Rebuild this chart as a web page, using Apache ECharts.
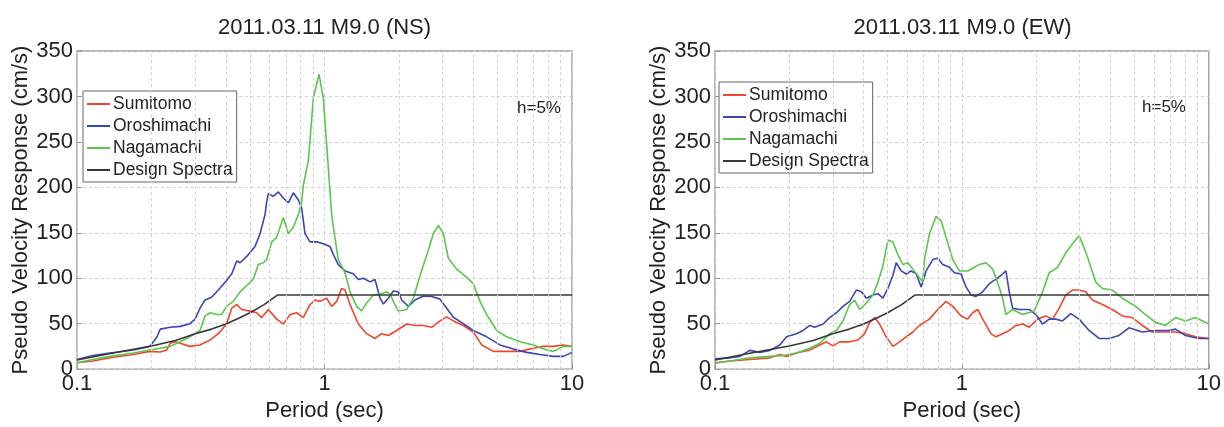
<!DOCTYPE html>
<html><head><meta charset="utf-8">
<script src="https://cdn.jsdelivr.net/npm/echarts@6/dist/echarts.min.js"></script>
<style>html,body{margin:0;padding:0;background:#fff}#c{width:1224px;height:427px}</style>
</head><body><div id="c"></div>
<script>
const seriesNames = ['Sumitomo', 'Oroshimachi', 'Nagamachi', 'Design Spectra'];
const chartTitles = ['2011.03.11 M9.0 (NS)', '2011.03.11 M9.0 (EW)'];
const dampingNote = 'h=5%';
const xName = 'Period (sec)';
const yName = 'Pseudo Velocity Response (cm/s)';
const yMin = 0, yMax = 350, yStep = 50;
const xMin = 0.1, xMax = 10;
const minorPeriods = [0.2, 0.3, 0.4, 0.5, 0.6, 0.7, 0.8, 0.9, 2, 3, 4, 5, 6, 7, 8, 9];

// [period (s), pseudo velocity (cm/s)]
const designSpectra = [[0.1,10],[0.14,17.7],[0.2,25.5],[0.25,31.5],[0.3,39],[0.35,44],[0.4,49.6],[0.45,56],[0.5,62],[0.57,71],[0.647,81.6],[10,81.6]];

const nsSumitomo = [[0.100,7],[0.116,8.9],[0.136,12.4],[0.169,16],[0.197,19.5],[0.217,18.8],[0.230,21],[0.238,28.4],[0.249,30],[0.261,28.4],[0.286,25],[0.314,26.6],[0.345,32],[0.378,40.8],[0.402,49.6],[0.422,67],[0.442,71],[0.463,65.6],[0.500,63.8],[0.532,62],[0.557,56.7],[0.593,65.6],[0.641,55],[0.682,49.6],[0.726,60],[0.772,62],[0.821,56.7],[0.874,71],[0.916,76],[0.959,74.5],[1.020,78],[1.069,69],[1.120,74.5],[1.173,88.7],[1.210,87],[1.268,71],[1.370,49.6],[1.480,39],[1.600,33.7],[1.702,39],[1.811,37],[1.957,42.5],[2.148,49.6],[2.321,48],[2.507,48],[2.710,46],[2.929,53],[3.117,57.4],[3.316,53],[3.638,48],[3.993,40.8],[4.315,26.6],[4.812,19.5],[5.445,19.5],[6.165,19.5],[6.980,23],[7.660,25],[8.407,25],[9.226,26.6],[10,25]];

const nsOroshimachi = [[0.100,10.6],[0.116,15],[0.136,17.7],[0.169,21],[0.197,25],[0.210,35],[0.217,44],[0.238,46],[0.261,47],[0.286,50],[0.300,55],[0.314,67],[0.329,76],[0.350,79],[0.378,89],[0.402,97.5],[0.422,105],[0.442,119],[0.456,117],[0.485,124],[0.524,135],[0.549,149],[0.575,170],[0.584,184],[0.593,193],[0.621,190],[0.651,195],[0.682,188],[0.714,183],[0.748,194],[0.784,186],[0.809,177],[0.834,149],[0.874,140],[0.930,140],[0.989,138],[1.052,135],[1.086,126],[1.137,115],[1.210,108],[1.308,105],[1.370,98.6],[1.435,100],[1.527,96],[1.600,98.6],[1.676,78],[1.729,71.6],[1.811,78],[1.897,86],[1.988,85],[2.050,76],[2.182,69],[2.321,76],[2.507,80.5],[2.710,80],[2.929,77],[3.117,67],[3.316,57],[3.638,50],[3.993,42.5],[4.521,35.5],[5.118,26.6],[5.794,22],[6.559,18.4],[7.426,16],[8.407,14],[9.226,14],[10,18.4]];

const nsNagamachi = [[0.100,7],[0.116,10.6],[0.136,14],[0.169,17.7],[0.197,21],[0.217,23],[0.238,25],[0.261,30],[0.286,35.5],[0.300,39],[0.314,42.5],[0.329,58.5],[0.345,62],[0.367,60],[0.384,60],[0.402,69],[0.428,74.5],[0.456,85],[0.485,92],[0.516,99],[0.540,115],[0.566,117],[0.584,120.5],[0.612,140],[0.641,145],[0.682,166.7],[0.714,149],[0.748,156],[0.784,170],[0.809,184],[0.821,202],[0.861,230],[0.901,298],[0.950,324.5],[0.989,298],[1.020,248],[1.069,170],[1.086,156],[1.137,120.5],[1.210,106],[1.268,85],[1.349,69],[1.413,64],[1.480,72.7],[1.575,81.6],[1.702,83],[1.783,85],[1.839,83],[1.897,74.5],[1.988,64],[2.148,65.6],[2.285,78],[2.432,103],[2.628,131],[2.752,149],[2.884,158],[3.020,149],[3.165,122],[3.420,110],[3.753,101],[3.993,94],[4.249,74.5],[4.521,60],[4.963,42.5],[5.445,35.5],[6.165,30],[6.980,26.6],[7.903,21],[8.407,19.5],[9.226,25],[10,25]];

const ewSumitomo = [[0.100,7],[0.115,8.9],[0.1385,10.6],[0.1668,12.4],[0.183,16],[0.1948,14],[0.2138,17.7],[0.242,21],[0.2656,26.6],[0.2827,30],[0.3008,25.5],[0.320,30],[0.3511,30],[0.3794,32],[0.4037,39],[0.423,51.4],[0.4432,56.7],[0.4642,49.6],[0.4938,35.5],[0.5254,25],[0.5591,30],[0.5948,35.5],[0.6327,40.8],[0.6732,48],[0.7389,55],[0.7987,65.6],[0.863,74.5],[0.9184,69],[0.9922,58.5],[1.0558,55],[1.106,62],[1.1588,65.6],[1.2141,55],[1.3117,39],[1.374,35.5],[1.4621,39],[1.5558,42.5],[1.6553,48],[1.7614,49.6],[1.8742,46],[2.0254,55],[2.189,58.5],[2.3291,55],[2.4782,67],[2.637,81.6],[2.8053,87],[2.9841,87],[3.174,85],[3.3777,76],[3.7068,71],[4.0689,65.6],[4.4656,58.5],[4.9015,56.7],[5.3794,48],[5.902,40.8],[6.4762,40.8],[7.3319,40.8],[8.0506,39],[8.8342,35.5],[10,33.7]];

const ewOroshimachi = [[0.100,11.3],[0.115,12.4],[0.126,14],[0.1385,20.6],[0.152,18.4],[0.1668,20.6],[0.183,26.6],[0.1948,35.5],[0.2138,39],[0.2275,42.5],[0.242,48],[0.2535,46],[0.274,49.6],[0.2915,56.7],[0.3102,62],[0.330,69],[0.3511,74.5],[0.3735,87],[0.3914,85],[0.4101,78],[0.4364,81.6],[0.4571,83],[0.4788,78],[0.5015,88.7],[0.5254,103],[0.542,117],[0.5678,108],[0.5948,104.6],[0.623,108],[0.6527,105],[0.6839,90.4],[0.7163,108],[0.7622,120.5],[0.7987,122],[0.8367,115],[0.8903,112],[0.9327,106],[0.9922,104.6],[1.0395,90.4],[1.089,81.6],[1.141,80],[1.2141,85],[1.2915,94],[1.374,99],[1.4621,104.6],[1.5083,108],[1.5558,85],[1.6047,67],[1.7075,65.6],[1.8742,65.6],[1.9941,60],[2.1221,49.6],[2.258,55],[2.4026,55],[2.5563,53],[2.7621,61],[2.9841,55],[3.2743,42.5],[3.5938,33.7],[3.9446,33.7],[4.3297,37],[4.752,45.4],[5.3794,40.8],[6.0885,42.5],[6.8906,42.5],[7.3319,44],[8.0506,37],[9.1125,33.7],[10,33.7]];

const ewNagamachi = [[0.100,6.4],[0.115,8.9],[0.1385,12.4],[0.1668,14],[0.1888,15],[0.2138,17.7],[0.242,23],[0.2656,28.4],[0.2915,39],[0.3102,42.5],[0.330,53],[0.3511,71],[0.3678,76],[0.3853,65.6],[0.4101,72.7],[0.4364,81.6],[0.4571,95.7],[0.4788,113.5],[0.5015,142],[0.5254,140],[0.5504,126],[0.5766,115],[0.604,117],[0.6327,110],[0.6628,103],[0.6945,95.7],[0.7054,120.5],[0.7389,149],[0.7864,168],[0.8238,163],[0.863,145],[0.9184,120.5],[0.977,108],[1.0558,108],[1.1234,112],[1.1769,115],[1.252,117],[1.3323,110],[1.3956,95.7],[1.4621,78],[1.5083,60],[1.6047,65.6],[1.7614,60],[1.9635,64],[2.1221,85],[2.258,106],[2.44,112],[2.637,128],[2.8053,138],[2.9841,147],[3.174,129],[3.4839,95.7],[3.7068,88.7],[4.0689,87],[4.4656,78],[5.0559,69],[5.5492,60],[6.0885,51.4],[6.6806,48],[7.3319,56.7],[8.0506,53],[8.8342,56.7],[10,49.6]];

const colors = ['#f2452b', '#3b45b3', '#5ac64b', '#383838'];
const FONT = '"Liberation Sans", Arial, Helvetica, sans-serif';

const panels = [
  {left: 77, data: [nsSumitomo, nsOroshimachi, nsNagamachi, designSpectra], legend: {left: 83, top: 91}, note: {x: 517, y: 100}},
  {left: 715, data: [ewSumitomo, ewOroshimachi, ewNagamachi, designSpectra], legend: {left: 719, top: 82}, note: {x: 1142, y: 99}}
];
const plotW = 495, plotH = 329, plotTop = 51;
const gridDash = [3, 3];
const gridColor = '#d2d2d2';
const FS = 22;

const option = {
  animation: false,
  backgroundColor: '#fff',
  textStyle: {fontFamily: FONT},
  title: panels.map((p, i) => ({
    text: chartTitles[i], left: p.left + plotW / 2, top: 17, textAlign: 'center', padding: 0,
    textStyle: {fontFamily: FONT, fontSize: FS, fontWeight: 'normal', color: '#222'}
  })),
  legend: panels.map(p => ({
    data: seriesNames, orient: 'vertical', left: p.legend.left, top: p.legend.top,
    icon: 'rect', itemWidth: 23, itemHeight: 2, itemGap: 4,
    padding: [4, 4, 3, 4], borderColor: '#666', borderWidth: 1, backgroundColor: '#fff',
    textStyle: {fontFamily: FONT, fontSize: 17.5, color: '#222', padding: [0, 0, 0, -2]}
  })),
  graphic: panels.map(p => ({
    type: 'text', left: p.note.x, top: p.note.y,
    style: {text: dampingNote, font: '17px ' + FONT, fill: '#222'}
  })),
  grid: panels.map(p => ({
    left: p.left, top: plotTop, width: plotW, height: plotH, show: true,
    borderColor: '#999', borderWidth: 1.3, backgroundColor: 'transparent'
  })),
  xAxis: panels.map((p, i) => ({
    type: 'log', logBase: 10, gridIndex: i, min: xMin, max: xMax,
    name: xName, nameLocation: 'middle', nameGap: 26,
    nameTextStyle: {fontFamily: FONT, fontSize: FS, color: '#222'},
    axisLine: {show: false},
    axisTick: {inside: true, length: 5, lineStyle: {color: '#999'}},
    axisLabel: {fontFamily: FONT, fontSize: FS, color: '#222', margin: 4},
    splitLine: {show: true, lineStyle: {color: gridColor, type: gridDash, width: 1}}
  })),
  yAxis: panels.map((p, i) => ({
    type: 'value', gridIndex: i, min: yMin, max: yMax, interval: yStep,
    name: yName, nameLocation: 'middle', nameGap: 43,
    nameTextStyle: {fontFamily: FONT, fontSize: FS, color: '#222'},
    axisLine: {show: false},
    axisTick: {inside: true, length: 5, lineStyle: {color: '#999'}},
    axisLabel: {fontFamily: FONT, fontSize: FS, color: '#222', margin: 4},
    splitLine: {show: true, lineStyle: {color: gridColor, type: gridDash, width: 1}}
  })),
  series: []
};

panels.forEach((p, i) => {
  option.series.push({
    type: 'line', xAxisIndex: i, yAxisIndex: i, data: [], silent: true, z: 1,
    markLine: {
      silent: true, symbol: ['none', 'none'], label: {show: false},
      lineStyle: {color: gridColor, type: gridDash, width: 1}, animation: false,
      data: minorPeriods.map(v => ({xAxis: v}))
    }
  });
  p.data.forEach((d, k) => {
    option.series.push({
      name: seriesNames[k], type: 'line', xAxisIndex: i, yAxisIndex: i,
      data: d, showSymbol: false, symbol: 'none', smooth: false,
      lineStyle: {color: colors[k], width: 1.6}, itemStyle: {color: colors[k]},
      z: 3
    });
  });
});

const chart = echarts.init(document.getElementById('c'), null, {renderer: 'canvas'});
chart.setOption(option);
</script></body></html>
